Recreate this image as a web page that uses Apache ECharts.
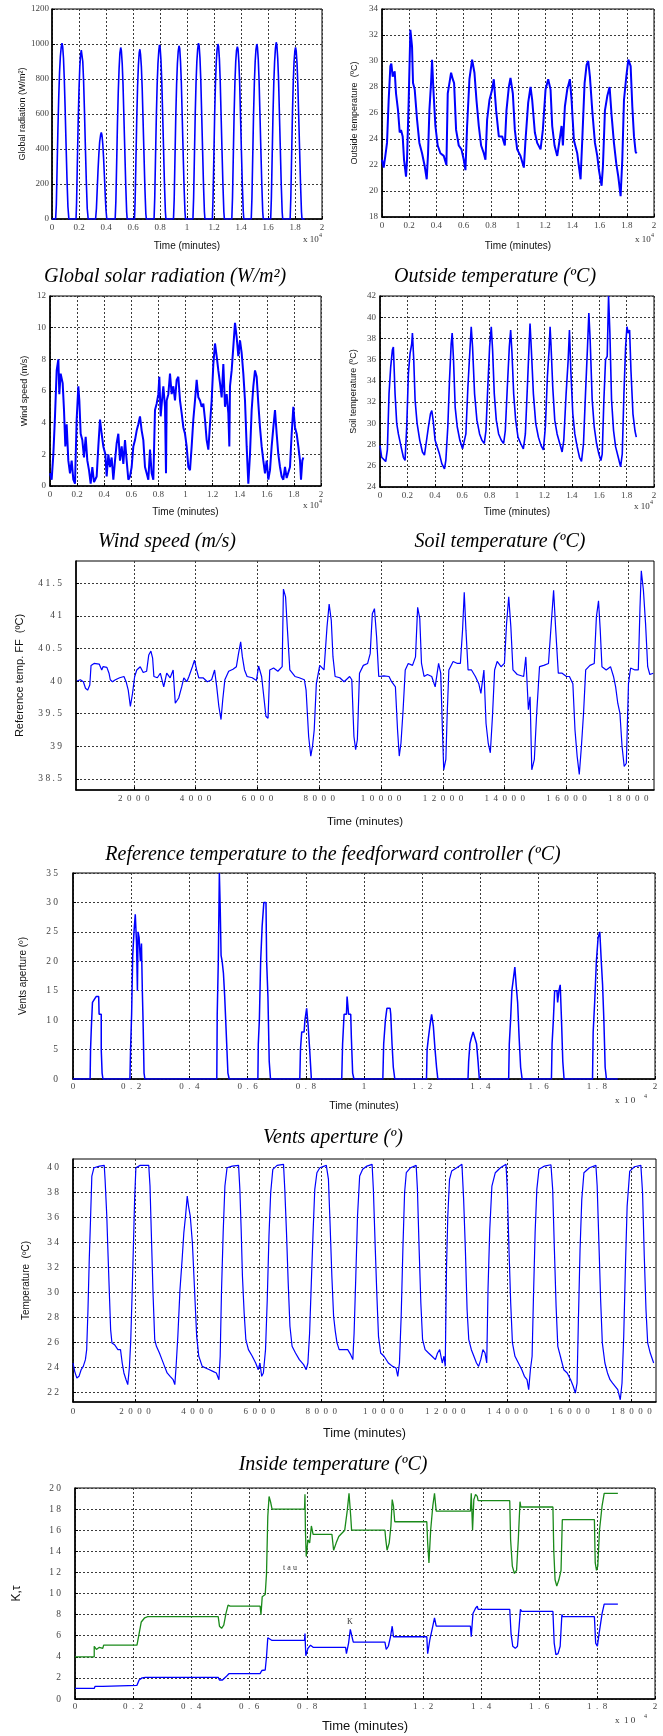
<!DOCTYPE html>
<html><head><meta charset="utf-8">
<script src="https://cdn.jsdelivr.net/npm/echarts@6/dist/echarts.min.js"></script>
<style>html,body{margin:0;padding:0;background:#fff}#c{width:663px;height:1736px}</style>
</head><body><div id="c"></div>
<script>
// ---------- DATA (time in minutes) ----------
const radiation = [[0,0],[270,0],[320,80],[380,300],[440,520],[500,700],[560,840],[620,930],[680,980],[740,1005],[790,985],[850,920],[910,800],[970,640],[1040,430],[1110,230],[1180,70],[1250,0],
[1780,0],[1820,90],[1880,330],[1940,560],[2000,740],[2060,870],[2120,940],[2170,965],[2220,955],[2280,900],[2340,790],[2400,630],[2470,420],[2540,220],[2610,60],[2680,0],
[3230,0],[3290,60],[3350,170],[3410,280],[3470,370],[3530,440],[3600,480],[3650,495],[3700,480],[3760,430],[3820,350],[3880,250],[3940,140],[4000,50],[4060,0],
[4680,0],[4730,100],[4790,320],[4850,550],[4910,730],[4970,860],[5030,950],[5090,980],[5140,960],[5200,890],[5260,770],[5320,600],[5390,400],[5460,200],[5530,40],[5570,0],
[6110,0],[6160,110],[6220,350],[6280,580],[6340,760],[6400,880],[6460,950],[6510,970],[6560,940],[6620,870],[6680,750],[6740,580],[6810,380],[6880,180],[6950,30],[6990,0],
[7560,0],[7610,120],[7670,360],[7730,590],[7790,770],[7850,890],[7910,960],[7960,995],[8010,980],[8070,910],[8130,790],[8190,620],[8260,410],[8330,200],[8400,40],[8440,0],
[9000,0],[9050,110],[9110,350],[9170,590],[9230,770],[9290,890],[9350,960],[9410,990],[9460,975],[9520,900],[9580,780],[9640,600],[9710,390],[9780,190],[9850,40],[9890,0],
[10440,0],[10490,120],[10550,360],[10610,600],[10670,780],[10730,900],[10790,970],[10850,1005],[10900,990],[10960,920],[11020,800],[11080,620],[11150,410],[11220,200],[11290,40],[11330,0],
[11880,0],[11930,120],[11990,360],[12050,600],[12110,780],[12170,900],[12230,970],[12290,1000],[12340,985],[12400,915],[12460,790],[12520,610],[12590,400],[12660,200],[12730,40],[12770,0],
[13320,0],[13370,120],[13430,360],[13490,600],[13550,780],[13610,900],[13670,965],[13730,985],[13780,970],[13840,900],[13900,780],[13960,600],[14030,390],[14100,190],[14170,40],[14210,0],
[14760,0],[14810,120],[14870,360],[14930,600],[14990,780],[15050,900],[15110,970],[15170,1000],[15220,980],[15280,910],[15340,790],[15400,610],[15470,400],[15540,200],[15610,40],[15650,0],
[16200,0],[16250,120],[16310,360],[16370,600],[16430,780],[16490,900],[16550,975],[16610,1010],[16660,990],[16720,920],[16780,800],[16840,620],[16910,410],[16980,200],[17050,40],[17090,0],
[17640,0],[17690,120],[17750,360],[17810,600],[17870,780],[17930,900],[17990,960],[18040,980],[18090,960],[18150,890],[18210,770],[18270,600],[18340,400],[18410,200],[18480,40],[18520,0],[18720,0]];

const outsideTemp = [[0,22.4],[123,21.8],[245,22.7],[368,23.7],[491,27.0],[614,29.6],[687,29.8],[785,28.8],[933,29.2],[1031,27.5],[1178,26.2],[1301,24.5],[1399,24.7],[1521,24.2],[1620,22.4],[1767,21.1],[1840,22.4],[1963,27.0],[2086,32.4],[2209,31.1],[2282,28.3],[2405,27.8],[2577,25.5],[2748,23.7],[2945,22.9],[3141,21.9],[3288,20.9],[3387,22.9],[3485,26.2],[3607,28.3],[3681,30.1],[3779,27.8],[3926,25.0],[4098,23.5],[4295,22.9],[4540,22.7],[4736,22.0],[4834,27.5],[4957,28.3],[5080,29.1],[5202,28.6],[5301,28.3],[5448,24.7],[5644,23.5],[5841,23.2],[6012,22.4],[6135,21.6],[6258,25.0],[6429,28.6],[6626,30.1],[6798,29.1],[6945,27.0],[7117,25.0],[7288,23.5],[7485,22.9],[7607,22.4],[7730,25.5],[7902,27.0],[8098,27.8],[8221,28.6],[8393,26.2],[8589,24.2],[8834,24.2],[9031,23.5],[9153,26.2],[9325,28.0],[9448,28.7],[9620,27.5],[9767,24.7],[9939,23.2],[10184,22.7],[10430,21.8],[10552,23.9],[10749,26.8],[10920,28.0],[11043,27.0],[11239,24.5],[11411,23.7],[11657,23.2],[11828,24.7],[12025,27.8],[12221,28.6],[12393,27.8],[12515,25.0],[12687,23.5],[12884,22.7],[13055,23.9],[13203,25.0],[13301,23.5],[13448,26.5],[13620,27.8],[13816,28.6],[13939,27.0],[14111,23.9],[14356,22.9],[14601,20.9],[14724,23.9],[14896,28.3],[15043,29.7],[15166,30.0],[15288,28.8],[15460,26.2],[15657,23.7],[15828,22.7],[15951,21.6],[16147,20.4],[16245,21.9],[16393,26.2],[16565,27.3],[16736,28.0],[16884,25.8],[17055,23.7],[17227,22.1],[17374,21.1],[17546,19.6],[17669,22.4],[17792,27.0],[17963,28.8],[18111,30.1],[18283,29.6],[18405,26.5],[18528,24.2],[18650,23.0],[18724,22.9]];

const windSpeed = [[0,0.8],[123,0.4],[246,2.0],[369,4.4],[492,7.3],[615,8.0],[689,5.8],[787,7.1],[935,6.5],[1033,4.8],[1132,2.5],[1230,3.9],[1353,1.6],[1476,0.8],[1599,1.6],[1722,0.4],[1845,0.15],[1968,4.2],[2091,6.3],[2165,5.4],[2263,3.3],[2386,2.9],[2509,1.8],[2632,3.1],[2755,1.6],[2878,1.0],[3001,0.15],[3124,1.2],[3247,0.25],[3444,0.6],[3567,2.5],[3690,4.2],[3813,3.3],[3936,2.5],[4084,2.0],[4182,0.6],[4305,2.0],[4428,1.2],[4551,1.8],[4674,0.4],[4797,1.6],[4920,2.7],[5043,3.3],[5166,1.6],[5289,2.5],[5412,1.4],[5535,2.9],[5658,1.6],[5781,0.4],[5904,0.6],[6027,1.2],[6150,2.5],[6273,2.9],[6396,3.5],[6519,3.9],[6642,4.4],[6765,3.5],[6888,2.9],[7011,1.2],[7134,0.8],[7257,0.4],[7380,2.3],[7503,0.8],[7626,0.4],[7749,4.8],[7872,5.2],[7995,5.8],[8069,6.9],[8167,4.4],[8266,5.4],[8364,6.3],[8487,5.0],[8561,0.8],[8610,5.4],[8733,5.8],[8856,7.1],[8979,5.8],[9102,6.3],[9225,5.4],[9348,6.7],[9471,6.9],[9594,5.4],[9717,4.6],[9840,3.7],[9963,3.3],[10086,2.5],[10209,1.2],[10332,1.0],[10455,2.5],[10578,4.2],[10701,5.4],[10824,6.7],[10947,5.6],[11070,5.4],[11193,5.0],[11316,5.2],[11439,4.2],[11562,2.9],[11685,2.3],[11808,3.9],[11931,5.4],[12054,7.7],[12177,9.0],[12300,8.2],[12423,7.3],[12546,6.5],[12669,5.6],[12792,7.7],[12915,5.0],[13038,5.8],[13161,4.6],[13235,2.5],[13284,6.3],[13407,7.3],[13530,8.8],[13653,10.3],[13776,9.4],[13899,8.2],[14022,9.2],[14145,8.4],[14268,7.1],[14391,5.4],[14514,2.5],[14637,0.15],[14760,2.0],[14883,4.8],[15006,6.3],[15129,7.3],[15252,6.9],[15375,5.2],[15498,3.7],[15621,2.5],[15744,1.6],[15867,0.8],[15990,1.6],[16113,0.4],[16236,1.0],[16359,2.5],[16482,3.7],[16605,4.8],[16728,3.3],[16851,2.0],[16974,1.2],[17097,0.6],[17220,0.4],[17343,1.2],[17466,0.5],[17589,0.4],[17712,1.2],[17835,3.3],[17958,5.0],[18081,3.7],[18204,3.3],[18327,2.5],[18450,1.6],[18524,0.4],[18622,1.6],[18696,1.8]];

const soilTemp = [[0,27.9],[122,26.8],[244,26.7],[415,26.4],[537,27.5],[659,32.8],[780,35.3],[902,36.9],[976,37.2],[1098,32.8],[1220,30.0],[1341,29.0],[1537,27.8],[1707,26.8],[1829,26.5],[1951,29.7],[2073,34.7],[2195,36.6],[2317,37.5],[2366,38.5],[2463,36.0],[2561,32.2],[2707,30.0],[2902,28.4],[3097,27.3],[3244,27.0],[3366,28.1],[3537,29.7],[3683,30.9],[3780,31.2],[3878,30.3],[4024,28.4],[4171,27.8],[4341,27.1],[4512,26.2],[4707,25.7],[4805,26.5],[4951,29.7],[5073,34.1],[5195,37.5],[5268,38.5],[5366,36.0],[5488,31.5],[5634,29.7],[5829,28.4],[6024,27.6],[6146,27.5],[6268,29.0],[6415,33.4],[6537,36.3],[6659,39.1],[6756,37.2],[6902,32.8],[7073,30.3],[7268,29.0],[7439,28.4],[7610,28.1],[7732,29.3],[7878,33.7],[8000,37.2],[8122,39.1],[8219,36.9],[8341,32.8],[8488,30.3],[8658,29.0],[8854,28.4],[9024,28.1],[9146,29.3],[9293,33.4],[9439,37.2],[9537,38.8],[9634,36.6],[9756,32.8],[9902,30.3],[10073,28.7],[10268,28.1],[10463,27.6],[10610,29.0],[10756,33.4],[10878,37.2],[10951,39.4],[11049,36.9],[11195,32.8],[11366,30.0],[11561,28.7],[11756,27.9],[11927,27.5],[12073,29.7],[12219,34.4],[12341,36.9],[12415,39.1],[12488,37.2],[12610,33.4],[12756,30.3],[12927,29.0],[13122,28.1],[13293,27.3],[13415,28.4],[13585,32.8],[13732,35.9],[13829,38.8],[13927,35.0],[14073,30.9],[14220,29.0],[14390,27.8],[14561,26.8],[14707,26.4],[14854,28.1],[15000,32.8],[15146,37.2],[15244,40.4],[15341,37.8],[15488,32.2],[15634,29.7],[15805,28.1],[15976,27.1],[16122,26.5],[16220,27.1],[16342,32.2],[16463,36.0],[16585,36.3],[16683,42.0],[16780,38.5],[16902,32.2],[17049,29.3],[17195,27.8],[17390,26.8],[17561,25.9],[17683,27.1],[17805,32.8],[17927,37.2],[18024,39.1],[18122,38.5],[18219,38.8],[18317,35.0],[18463,30.9],[18610,29.3],[18707,28.7]];

const refTemp = [[161,40.0],[271,40.02],[368,39.99],[437,39.89],[506,39.86],[576,39.94],[617,40.24],[714,40.27],[880,40.26],[963,40.17],[1004,40.22],[1129,40.21],[1198,40.12],[1239,40.02],[1309,39.99],[1405,40.02],[1544,40.05],[1682,40.07],[1751,39.99],[1820,39.86],[1889,39.61],[1959,39.81],[2028,40.07],[2097,40.17],[2208,40.22],[2304,40.13],[2415,40.15],[2484,40.40],[2553,40.46],[2609,40.35],[2650,40.07],[2761,40.05],[2858,40.12],[2968,39.91],[3065,40.12],[3176,40.05],[3273,40.17],[3342,39.66],[3452,39.74],[3549,39.91],[3618,40.05],[3715,39.99],[3784,40.07],[3895,40.22],[3964,40.32],[4033,40.17],[4102,40.05],[4240,40.05],[4379,39.99],[4517,40.02],[4614,40.17],[4683,39.91],[4752,39.61],[4822,39.41],[4877,39.71],[4946,40.02],[5070,40.15],[5209,40.18],[5319,40.22],[5388,40.42],[5458,40.60],[5513,40.37],[5582,40.17],[5665,40.07],[5831,40.05],[5969,40.01],[6038,40.23],[6135,40.07],[6218,39.71],[6274,39.46],[6343,39.43],[6398,40.17],[6523,40.20],[6661,40.15],[6800,40.22],[6841,41.41],[6910,41.29],[6965,40.83],[7048,40.17],[7214,40.07],[7352,40.05],[7518,40.02],[7574,39.86],[7657,39.15],[7726,38.85],[7781,39.0],[7837,39.25],[7906,39.96],[8016,40.24],[8154,40.17],[8251,40.83],[8320,41.18],[8389,40.93],[8444,40.37],[8513,40.07],[8665,40.05],[8804,39.99],[8983,40.07],[9053,40.02],[9122,39.15],[9177,38.95],[9233,39.1],[9302,40.12],[9426,40.24],[9565,40.27],[9648,40.42],[9717,41.03],[9786,41.11],[9855,40.68],[9925,40.07],[10091,40.08],[10257,40.07],[10340,39.99],[10464,39.91],[10533,39.25],[10588,38.85],[10644,39.05],[10713,39.56],[10782,40.17],[10879,40.27],[11017,40.24],[11114,40.37],[11183,41.13],[11252,40.96],[11308,40.27],[11391,40.07],[11501,40.10],[11639,40.07],[11750,39.91],[11861,40.27],[11930,40.12],[11985,39.25],[12027,38.64],[12096,38.80],[12137,39.46],[12193,40.17],[12331,40.30],[12470,40.27],[12566,40.27],[12636,40.78],[12691,41.36],[12746,40.78],[12815,40.17],[12926,40.17],[13051,40.07],[13161,39.96],[13230,39.81],[13327,40.17],[13396,39.35],[13466,39.05],[13535,38.90],[13604,39.46],[13673,40.17],[13756,40.30],[13881,40.22],[13991,40.27],[14060,40.88],[14130,41.29],[14199,40.83],[14267,40.17],[14406,40.10],[14613,40.07],[14683,40.37],[14766,39.56],[14821,39.76],[14876,38.64],[14959,38.80],[15029,39.46],[15126,40.22],[15264,40.24],[15416,40.27],[15513,40.93],[15582,41.39],[15651,40.78],[15734,40.12],[15858,40.12],[15997,40.07],[16094,40.07],[16205,39.96],[16274,39.25],[16343,38.85],[16413,38.57],[16482,39.0],[16551,39.51],[16620,40.17],[16759,40.24],[16897,40.27],[16966,40.98],[17035,41.23],[17091,40.78],[17146,40.22],[17284,40.17],[17423,40.22],[17520,40.07],[17589,39.91],[17658,39.66],[17727,39.51],[17796,39.0],[17866,38.69],[17935,38.74],[18004,39.96],[18073,40.20],[18212,40.17],[18322,40.17],[18377,41.13],[18419,41.69],[18488,41.39],[18557,40.88],[18626,40.22],[18695,40.10],[18806,40.12]];

const vents = [[0,0],[588,0],[618,5],[647,9],[691,13],[765,13.5],[824,14],[882,14],[912,11],[956,11],[985,5],[1015,1],[1044,0],
[1956,0],[2000,5],[2029,11],[2074,21],[2118,25],[2162,28],[2206,23],[2221,15],[2250,25],[2294,24],[2338,20],[2368,23],[2397,15],[2426,9],[2456,1],[2485,0],
[4941,0],[4971,11],[5015,20],[5044,35],[5074,29],[5103,21],[5147,20],[5191,18],[5235,14],[5294,8],[5353,1],[5382,0],
[6353,0],[6382,6],[6426,10],[6471,20],[6529,26],[6588,30],[6632,30],[6676,20],[6721,14],[6765,3],[6809,0],
[7794,0],[7838,5],[7882,8],[7941,8],[8000,10],[8059,12],[8103,9],[8162,5],[8221,0],
[9235,0],[9294,6],[9338,11],[9397,11],[9441,14],[9500,11],[9544,11],[9588,7],[9632,1],[9676,0],
[10647,0],[10706,6],[10765,10],[10809,12],[10897,12],[10941,11],[10985,6],[11029,2],[11088,0],
[12147,0],[12191,5],[12235,7],[12294,9],[12353,11],[12412,9],[12471,5],[12515,2],[12559,0],
[13574,0],[13618,3],[13662,6],[13721,7],[13779,8],[13838,7],[13897,6],[13941,3],[13985,0],
[14971,0],[15015,6],[15059,10],[15103,15],[15162,17],[15206,19],[15250,16],[15309,13],[15353,7],[15412,2],[15456,0],
[16441,0],[16485,6],[16529,10],[16574,15],[16632,15],[16676,13],[16721,15],[16765,16],[16809,10],[16853,3],[16897,0],
[17853,0],[17897,8],[17956,13],[18015,20],[18074,24],[18132,25],[18176,20],[18221,16],[18265,10],[18309,2],[18353,0],[18720,0]];

const insideTemp = [[0,24.33],[55,23.66],[124,23.12],[193,23.26],[262,23.79],[331,24.06],[400,24.60],[441,25.40],[483,28.62],[524,32.63],[565,35.85],[607,39.33],[676,40.0],[855,40.13],[1007,40.19],[1034,39.06],[1089,36.12],[1131,32.90],[1172,29.95],[1213,27.01],[1255,25.94],[1338,25.80],[1448,25.40],[1531,25.40],[1586,24.33],[1641,23.53],[1710,22.99],[1765,22.59],[1820,24.06],[1862,26.20],[1903,29.69],[1944,33.44],[1986,37.46],[2027,40.0],[2165,40.19],[2441,40.19],[2482,38.53],[2524,34.78],[2579,29.95],[2634,26.20],[2689,25.67],[2786,25.13],[2868,24.60],[2951,24.06],[3034,23.53],[3130,23.26],[3227,22.99],[3282,22.59],[3323,24.06],[3379,26.47],[3448,30.22],[3517,32.63],[3572,34.78],[3627,36.12],[3682,37.72],[3723,36.92],[3779,36.12],[3848,33.97],[3917,30.22],[3986,26.47],[4054,24.87],[4165,24.06],[4275,23.93],[4399,23.79],[4509,23.66],[4620,23.53],[4703,22.99],[4744,24.87],[4785,29.95],[4840,34.78],[4896,38.53],[4965,40.0],[5130,40.13],[5337,40.19],[5378,38.26],[5420,35.04],[5461,31.29],[5516,28.35],[5571,26.20],[5654,25.40],[5778,24.87],[5888,24.33],[5971,23.79],[6026,24.33],[6081,23.26],[6136,23.53],[6205,25.40],[6261,29.42],[6316,34.51],[6371,37.99],[6440,39.87],[6578,40.19],[6785,40.27],[6826,38.26],[6881,34.78],[6936,30.76],[6992,27.28],[7061,25.67],[7171,25.13],[7295,24.60],[7433,24.20],[7516,23.79],[7571,24.33],[7626,26.74],[7681,30.76],[7737,34.78],[7792,38.26],[7861,39.60],[7957,40.0],[8164,40.19],[8233,39.06],[8288,35.31],[8343,31.29],[8399,28.08],[8454,26.87],[8509,25.94],[8578,25.40],[8716,25.40],[8853,25.40],[8950,25.0],[9019,24.60],[9060,26.74],[9115,31.29],[9170,36.12],[9239,39.33],[9336,39.87],[9474,40.13],[9640,40.27],[9681,38.26],[9736,33.97],[9791,29.95],[9846,26.47],[9915,25.13],[10025,24.87],[10163,24.33],[10301,24.06],[10411,23.93],[10467,23.26],[10522,24.33],[10577,28.08],[10632,33.44],[10687,37.99],[10742,39.60],[10880,40.0],[11060,40.19],[11101,38.26],[11156,33.44],[11211,29.15],[11267,26.20],[11349,25.40],[11459,25.13],[11570,24.87],[11680,24.60],[11749,25.13],[11818,25.40],[11901,24.33],[11956,24.87],[11997,24.06],[12039,32.10],[12080,36.12],[12135,39.06],[12204,39.73],[12370,40.0],[12535,40.27],[12590,37.46],[12646,33.44],[12701,28.62],[12756,26.20],[12839,25.40],[12921,24.87],[13004,24.33],[13073,24.06],[13142,24.60],[13211,25.40],[13280,25.13],[13335,24.33],[13376,30.22],[13432,35.04],[13501,38.53],[13611,39.60],[13776,40.0],[13956,40.27],[13997,38.26],[14052,33.44],[14107,29.15],[14163,25.94],[14245,24.87],[14356,24.33],[14466,23.79],[14549,23.26],[14632,22.99],[14687,22.19],[14742,23.79],[14797,24.87],[14839,29.42],[14894,34.78],[14949,38.26],[15018,39.87],[15197,40.13],[15404,40.24],[15460,38.26],[15515,33.44],[15570,28.88],[15625,25.67],[15708,24.87],[15818,23.79],[15928,23.53],[16039,22.99],[16122,22.46],[16191,21.92],[16246,22.72],[16287,27.54],[16342,33.44],[16398,37.46],[16467,39.60],[16646,40.0],[16853,40.19],[16894,38.53],[16950,33.97],[17005,29.42],[17060,25.94],[17143,24.33],[17226,23.53],[17308,22.99],[17391,22.72],[17474,22.46],[17557,22.19],[17639,21.38],[17695,22.72],[17750,26.47],[17805,32.10],[17860,36.92],[17943,39.73],[18095,40.08],[18302,40.19],[18357,37.99],[18412,32.90],[18467,28.62],[18522,25.94],[18605,25.13],[18715,24.33]];

const tauData = [[0,4.0],[663,4.0],[663,5.0],[737,4.7],[840,4.9],[958,4.8],[988,5.1],[1106,5.1],[2137,5.1],[2211,6.2],[2285,7.3],[2403,7.7],[2506,7.8],[4938,7.8],[4982,6.9],[5056,6.7],[5130,7.0],[5204,8.1],[5277,8.9],[5351,8.8],[6383,8.8],[6413,8.0],[6456,9.7],[6559,9.9],[6604,11.9],[6648,17.3],[6692,19.2],[6751,18.6],[6795,18.0],[7915,18.0],[7930,19.4],[7945,16.0],[7974,13.5],[8033,15.1],[8092,14.8],[8151,16.4],[8210,15.6],[8859,15.6],[8918,14.1],[9007,14.8],[9095,15.4],[9301,16.0],[9390,17.9],[9449,19.5],[9508,17.3],[9538,16.0],[9581,16.0],[10687,16.0],[10717,15.1],[10761,14.1],[10835,14.8],[10894,16.4],[10938,18.9],[10982,18.3],[11026,16.8],[12131,16.8],[12161,14.8],[12205,12.9],[12264,16.0],[12338,18.3],[12397,19.5],[12456,17.8],[13635,17.8],[13664,19.5],[13709,16.0],[13753,18.9],[13812,19.4],[13871,19.2],[13900,18.8],[14991,18.8],[15021,15.1],[15080,12.6],[15153,11.9],[15227,12.2],[15286,15.1],[15345,18.7],[15374,18.2],[16480,18.2],[16509,14.1],[16554,11.3],[16613,10.7],[16686,11.3],[16760,12.2],[16804,17.0],[16834,17.0],[17910,17.0],[17939,12.9],[17983,12.2],[18027,12.6],[18086,16.0],[18175,18.3],[18248,19.5],[18720,19.5]];

const kData = [[0,1.0],[663,1.0],[693,1.2],[958,1.2],[988,1.3],[2137,1.3],[2211,1.8],[2314,2.0],[2432,2.05],[4938,2.05],[4982,1.8],[5086,1.8],[5204,2.1],[5307,2.4],[6383,2.4],[6442,2.7],[6559,2.75],[6604,4.0],[6648,5.8],[6707,5.9],[6795,5.55],[7915,5.55],[7930,6.2],[7959,4.1],[8033,4.8],[8122,5.1],[8210,4.9],[9331,4.9],[9360,4.3],[9434,5.3],[9493,6.6],[9552,5.9],[9596,5.4],[10687,5.4],[10732,4.7],[10805,5.0],[10879,5.9],[10938,6.9],[10982,5.9],[11026,5.9],[12131,5.9],[12161,4.3],[12235,5.6],[12338,6.9],[12397,7.7],[12456,6.9],[13635,6.9],[13664,5.9],[13723,8.1],[13812,8.6],[13871,8.8],[13900,8.5],[14991,8.5],[15036,6.2],[15095,5.0],[15183,4.8],[15257,5.0],[15316,6.9],[15360,8.5],[15404,8.3],[16480,8.3],[16524,5.3],[16583,4.2],[16657,4.3],[16730,5.0],[16789,8.0],[16819,7.8],[17910,7.8],[17954,5.3],[18013,5.0],[18072,6.2],[18175,8.1],[18248,9.0],[18720,9.0]];

// ---------- TICKS ----------
const ticks1e4 = [0,2000,4000,6000,8000,10000,12000,14000,16000,18000,20000];
const radTicks = [0,200,400,600,800,1000,1200];
const outTicks = [18,20,22,24,26,28,30,32,34];
const windTicks = [0,2,4,6,8,10,12];
const soilTicks = [24,26,28,30,32,34,36,38,40,42];
const refXTicks = [2000,4000,6000,8000,10000,12000,14000,16000,18000];
const refYTicks = [38.5,39,39.5,40,40.5,41,41.5];
const ventTicks = [0,5,10,15,20,25,30,35];
const inXTicks = [0,2000,4000,6000,8000,10000,12000,14000,16000,18000];
const inYTicks = [22,24,26,28,30,32,34,36,38,40];
const ktTicks = [0,2,4,6,8,10,12,14,16,18,20];

// ---------- LAYOUT / STYLE ----------
const SERIF = 'Liberation Serif', SANS = 'Liberation Sans';
const EN = '\u2002';
const e4 = v => String(Number((v/1e4).toFixed(1)));
const spX = s => String(s).split('').join(EN);
const spY = s => String(s).split('').join(' ');

const grids = [
  {left:52, top:9, width:270, height:210},
  {left:382, top:9, width:272, height:208},
  {left:50, top:296, width:271, height:190},
  {left:380, top:296, width:274, height:191},
  {left:76, top:561, width:578, height:229},
  {left:73, top:873, width:582, height:206},
  {left:73, top:1159, width:583, height:243},
  {left:75, top:1488, width:580, height:211}
].map(g => Object.assign({show:true, borderColor:'#000', borderWidth:1, backgroundColor:'#fff', containLabel:false}, g));

function axis(isY, gi, o) {
  return {
    type:'value', gridIndex:gi, min:o.min, max:o.max,
    name:o.name, nameLocation:'middle', nameGap:o.gap, nameRotate:isY?90:0, nameMoveOverlap:false,
    nameTextStyle:{fontFamily:SANS, fontSize:o.ns, color:'#111'},
    axisLine:{show:true, onZero:false, lineStyle:{color:'#000', width:1.6}},
    axisTick:{show:true, inside:true, length:3, customValues:o.ticks, lineStyle:{color:'#000', width:1}},
    axisLabel:{show:true, customValues:o.ticks, formatter:o.fmt, fontFamily:SERIF, fontSize:o.ls, color:'#444', margin:o.m},
    splitLine:{show:true, lineStyle:{color:'#3a3a3a', type:[2,2], width:1}}
  };
}

const xAxes = [
  axis(false,0,{min:0,max:20000,ticks:ticks1e4,fmt:e4,name:'Time (minutes)',gap:22,ns:10,ls:9,m:4}),
  axis(false,1,{min:0,max:20000,ticks:ticks1e4,fmt:e4,name:'Time (minutes)',gap:24,ns:10,ls:9,m:4}),
  axis(false,2,{min:0,max:20000,ticks:ticks1e4,fmt:e4,name:'Time (minutes)',gap:21,ns:10,ls:9,m:4}),
  axis(false,3,{min:0,max:20000,ticks:ticks1e4,fmt:e4,name:'Time (minutes)',gap:20,ns:10,ls:9,m:4}),
  axis(false,4,{min:130,max:18830,ticks:refXTicks,fmt:spX,name:'Time (minutes)',gap:26,ns:11.5,ls:9,m:4}),
  axis(false,5,{min:0,max:20000,ticks:ticks1e4,fmt:v=>spX(e4(v)),name:'Time (minutes)',gap:22,ns:10.5,ls:9,m:3}),
  axis(false,6,{min:0,max:18790,ticks:inXTicks,fmt:spX,name:'Time (minutes)',gap:25,ns:12.5,ls:9,m:5}),
  axis(false,7,{min:0,max:20000,ticks:ticks1e4,fmt:v=>spX(e4(v)),name:'Time (minutes)',gap:21,ns:13,ls:9,m:3})
];
const yAxes = [
  axis(true,0,{min:0,max:1200,ticks:radTicks,fmt:v=>String(v),name:'Global radiation (W/m²)',gap:25,ns:9,ls:9,m:3}),
  axis(true,1,{min:18,max:34,ticks:outTicks,fmt:v=>String(v),name:'Outside temperature  (ºC)',gap:23,ns:9,ls:9,m:4}),
  axis(true,2,{min:0,max:12,ticks:windTicks,fmt:v=>String(v),name:'Wind speed (m/s)',gap:21,ns:9,ls:9,m:4}),
  axis(true,3,{min:24,max:42,ticks:soilTicks,fmt:v=>String(v),name:'Soil temperature (ºC)',gap:22,ns:9,ls:9,m:4}),
  axis(true,4,{min:38.33,max:41.84,ticks:refYTicks,fmt:spY,name:'Reference temp. FF  (ºC)',gap:51,ns:11,ls:9.5,m:14}),
  axis(true,5,{min:0,max:35,ticks:ventTicks,fmt:spY,name:'Vents aperture (º)',gap:45,ns:10,ls:9.5,m:15}),
  axis(true,6,{min:21.2,max:40.7,ticks:inYTicks,fmt:spY,name:'Temperature  (ºC)',gap:42,ns:10,ls:9.5,m:14}),
  axis(true,7,{min:0,max:20,ticks:ktTicks,fmt:spY,name:'K,τ',gap:52,ns:12,ls:9.5,m:14})
];

const BLUE = '#0000ff', GREEN = '#1a8a1a';
function line(i, data, color, w, extra) {
  return Object.assign({type:'line', xAxisIndex:i, yAxisIndex:i, data:data, showSymbol:false, symbol:'none',
    lineStyle:{color:color, width:w}, itemStyle:{color:color}, silent:true, animation:false, z:3}, extra||{});
}
const series = [
  line(0, radiation, BLUE, 1.6),
  line(1, outsideTemp, BLUE, 2),
  line(2, windSpeed, BLUE, 2),
  line(3, soilTemp, BLUE, 1.6),
  line(4, refTemp, BLUE, 1.2),
  line(5, vents, BLUE, 1.5, {step:'middle'}),
  line(6, insideTemp, BLUE, 1.2),
  line(7, tauData, GREEN, 1.3, {markPoint:{symbol:'circle', symbolSize:0, silent:true,
      label:{show:true, color:'#333', fontFamily:SERIF, fontSize:8, formatter:p=>p.name},
      data:[{name:'t a u', coord:[7414,12.4]}]}}),
  line(7, kData, BLUE, 1.3, {markPoint:{symbol:'circle', symbolSize:0, silent:true,
      label:{show:true, color:'#333', fontFamily:SERIF, fontSize:8, formatter:p=>p.name},
      data:[{name:'K', coord:[9483,7.3]}]}})
];

const capFont = 'italic 20px "Liberation Serif"';
function cap(txt, x, y) {
  return {type:'text', x:x, y:y, silent:true, style:{text:txt, font:capFont, fill:'#000', align:'center', verticalAlign:'middle'}};
}
function e4note(x, y, spaced) {
  return [
    {type:'text', x:x, y:y, silent:true, style:{text: spaced ? 'x  1 0' : 'x 10', font:'9px "Liberation Serif"', fill:'#333', align:'left', verticalAlign:'middle'}},
    {type:'text', x:x + (spaced ? 29 : 16), y:y-5, silent:true, style:{text:'4', font:'6px "Liberation Serif"', fill:'#333', align:'left', verticalAlign:'middle'}}
  ];
}
const graphic = [
  cap('Global solar radiation (W/m²)', 165, 277),
  cap('Outside temperature (ºC)', 495, 277),
  cap('Wind speed (m/s)', 167, 542),
  cap('Soil temperature (ºC)', 500, 542),
  cap('Reference temperature to the feedforward controller (ºC)', 333, 855),
  cap('Vents aperture (º)', 333, 1138),
  cap('Inside temperature (ºC)', 333, 1465)
].concat(e4note(303,240,false), e4note(635,240,false), e4note(303,506,false), e4note(634,507,false),
         e4note(615,1101,true), e4note(615,1721,true));

const chart = echarts.init(document.getElementById('c'), null, {renderer:'canvas'});
chart.setOption({
  backgroundColor:'#fff', animation:false,
  grid:grids, xAxis:xAxes, yAxis:yAxes, series:series, graphic:graphic
});
</script>
</body></html>
